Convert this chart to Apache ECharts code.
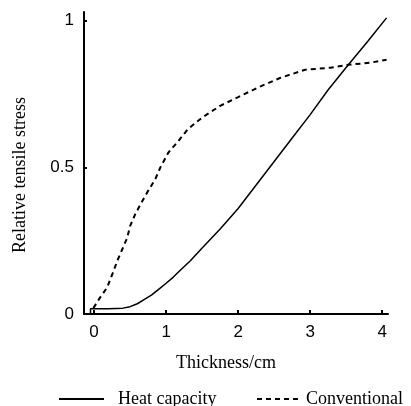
<!DOCTYPE html>
<html>
<head>
<meta charset="utf-8">
<script src="https://cdn.jsdelivr.net/npm/echarts@6/dist/echarts.min.js"></script>
<style>html,body{margin:0;padding:0;background:#fff}#c{width:411px;height:406px}</style>
</head>
<body>
<div id="c"></div>
<script>
var xTicks = [0, 1, 2, 3, 4];
var yTicks = [0, 0.5, 1];
var heatX = [-0.05, -0.05, 0.2, 0.4, 0.5, 0.6, 0.7, 0.8, 0.9, 1.0, 1.1, 1.2, 1.33, 1.5, 1.75, 2.0, 2.25, 2.5, 2.75, 3.0, 3.25, 3.53, 3.8, 4.06];
var heatY = [0, 0.018, 0.018, 0.02, 0.025, 0.035, 0.05, 0.065, 0.085, 0.105, 0.126, 0.15, 0.18, 0.225, 0.29, 0.36, 0.44, 0.52, 0.60, 0.68, 0.765, 0.85, 0.93, 1.01];
var convX = [-0.01, 0.08, 0.18, 0.26, 0.32, 0.39, 0.46, 0.5, 0.57, 0.68, 0.75, 0.85, 0.92, 1.03, 1.17, 1.3, 1.5, 1.75, 2.0, 2.3, 2.58, 2.93, 3.28, 3.53, 3.83, 4.06];
var convY = [0.02, 0.055, 0.09, 0.14, 0.18, 0.22, 0.26, 0.30, 0.34, 0.39, 0.42, 0.46, 0.50, 0.55, 0.59, 0.63, 0.67, 0.71, 0.74, 0.775, 0.805, 0.833, 0.84, 0.85, 0.857, 0.867];
var seriesNames = ['Heat capacity', 'Conventional'];
var xName = 'Thickness/cm';
var yName = 'Relative tensile stress';

function pairs(xs, ys) { return xs.map(function (x, i) { return [x, ys[i]]; }); }

var serif = '"Liberation Serif", "DejaVu Serif", serif';
var sans = '"Liberation Sans", Arial, sans-serif';

var legendCommon = {padding: 0, itemHeight: 14, itemStyle: {opacity: 0},
  textStyle: {fontFamily: serif, fontSize: 18, color: '#000'}};

var chart = echarts.init(document.getElementById('c'), null, {renderer: 'canvas'});
chart.setOption({
  animation: false,
  backgroundColor: '#fff',
  grid: {left: 84, top: 12, right: 23, bottom: 92, containLabel: false},
  legend: [
    Object.assign({}, legendCommon, {data: [seriesNames[0]], left: 58, top: 390, itemWidth: 45,
      textStyle: {fontFamily: serif, fontSize: 18, color: '#000', padding: [0, 0, 0, 9]}}),
    Object.assign({}, legendCommon, {data: [seriesNames[1]], left: 256, top: 390, itemWidth: 44})
  ],
  xAxis: {
    type: 'value', min: -0.14, max: 4.08,
    name: xName, nameLocation: 'middle', nameGap: 40,
    nameTextStyle: {fontFamily: serif, fontSize: 18, color: '#000', padding: [0, 20, 0, 0]},
    axisLine: {show: true, onZero: false, lineStyle: {color: '#000', width: 2}},
    axisTick: {show: true, inside: true, length: 4, customValues: xTicks, lineStyle: {color: '#000', width: 2}},
    axisLabel: {customValues: xTicks, fontFamily: sans, fontSize: 17, color: '#000', margin: 10},
    splitLine: {show: false}
  },
  yAxis: {
    type: 'value', min: 0, max: 1.03,
    name: yName, nameLocation: 'middle', nameGap: 55, nameRotate: 90,
    nameTextStyle: {fontFamily: serif, fontSize: 18, color: '#000', padding: [0, 24, 0, 0]},
    axisLine: {show: true, onZero: false, lineStyle: {color: '#000', width: 2}},
    axisTick: {show: true, inside: true, length: 3, customValues: yTicks, lineStyle: {color: '#000', width: 2}},
    axisLabel: {customValues: yTicks, fontFamily: sans, fontSize: 17, color: '#000', margin: 10},
    splitLine: {show: false}
  },
  series: [
    {name: seriesNames[0], type: 'line', data: pairs(heatX, heatY), symbol: 'none', smooth: false,
     lineStyle: {color: '#000', width: 1.5, type: 'solid'}, itemStyle: {color: '#000'}},
    {name: seriesNames[1], type: 'line', data: pairs(convX, convY), symbol: 'none', smooth: false,
     lineStyle: {color: '#000', width: 2, type: [5, 4]}, itemStyle: {color: '#000'}}
  ]
});
</script>
</body>
</html>
